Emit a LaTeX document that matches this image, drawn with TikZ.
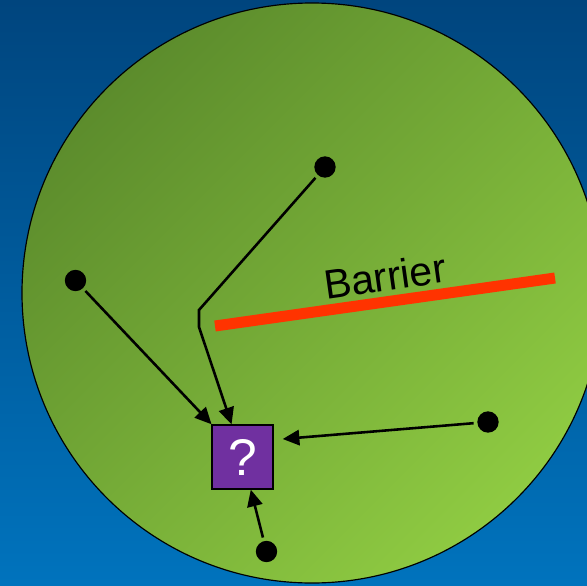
\documentclass[tikz,border=0pt]{standalone}
\usepackage{fontspec}
\setmainfont{Liberation Sans}
\usetikzlibrary{arrows.meta}
\definecolor{bgtop}{HTML}{00457E}
\definecolor{bgbot}{HTML}{0073BD}
\definecolor{gdark}{HTML}{5C8C2C}
\definecolor{glight}{HTML}{8FCB42}
\definecolor{qbox}{HTML}{7030A0}
\definecolor{barr}{HTML}{FF3300}
\begin{document}
\begin{tikzpicture}[x=0.03cm,y=-0.03cm,
 src/.style={fill=black,circle,inner sep=0pt,minimum size=0.64cm},
 qnode/.style={draw=black,line width=1.2pt,fill=qbox,text=white,minimum width=1.83cm,minimum height=1.92cm,inner sep=0pt,font=\fontsize{44}{44}\selectfont},
 arr/.style={line width=2.2pt,-{Triangle[length=0.5cm,width=0.46cm]},shorten <=3pt},
 ]
 \useasboundingbox (0,0) rectangle (587,585);
 \clip (0,0) rectangle (587,585);
 \shade[top color=bgtop,bottom color=bgbot] (0,0) rectangle (587,585);
 \shade[shading=axis,top color=gdark,bottom color=glight,shading angle=45,draw=black,line width=1pt] (312,293) circle (290);
 
 %Barriere
 \draw[barr,line width=0.33cm] (215,326) -- (555,278);
 \node[rotate=8,font=\fontsize{35}{35}\selectfont,inner sep=1pt] (lbl) at (385,276) {Barrier};
 
 \node[qnode] (q) at (242.5,457) {?};
 \node[src] (s1) at (325,167) {};
 \node[src] (s2) at (75.5,280.5) {};
 \node[src] (s3) at (488,422) {};
 \node[src] (s4) at (266.5,551.5) {};
 \coordinate (k1) at (199,310);
 \coordinate (k2) at (199,327);
 
 \draw[arr] (s1) -- (k1) -- (k2) -- (q);
 \draw[arr] (s2) -- (q);
 \draw[arr] (s3) -- ([shift={(9,-18)}]q.east);
 \draw[arr] (s4) -- (q);
\end{tikzpicture}
\end{document}
